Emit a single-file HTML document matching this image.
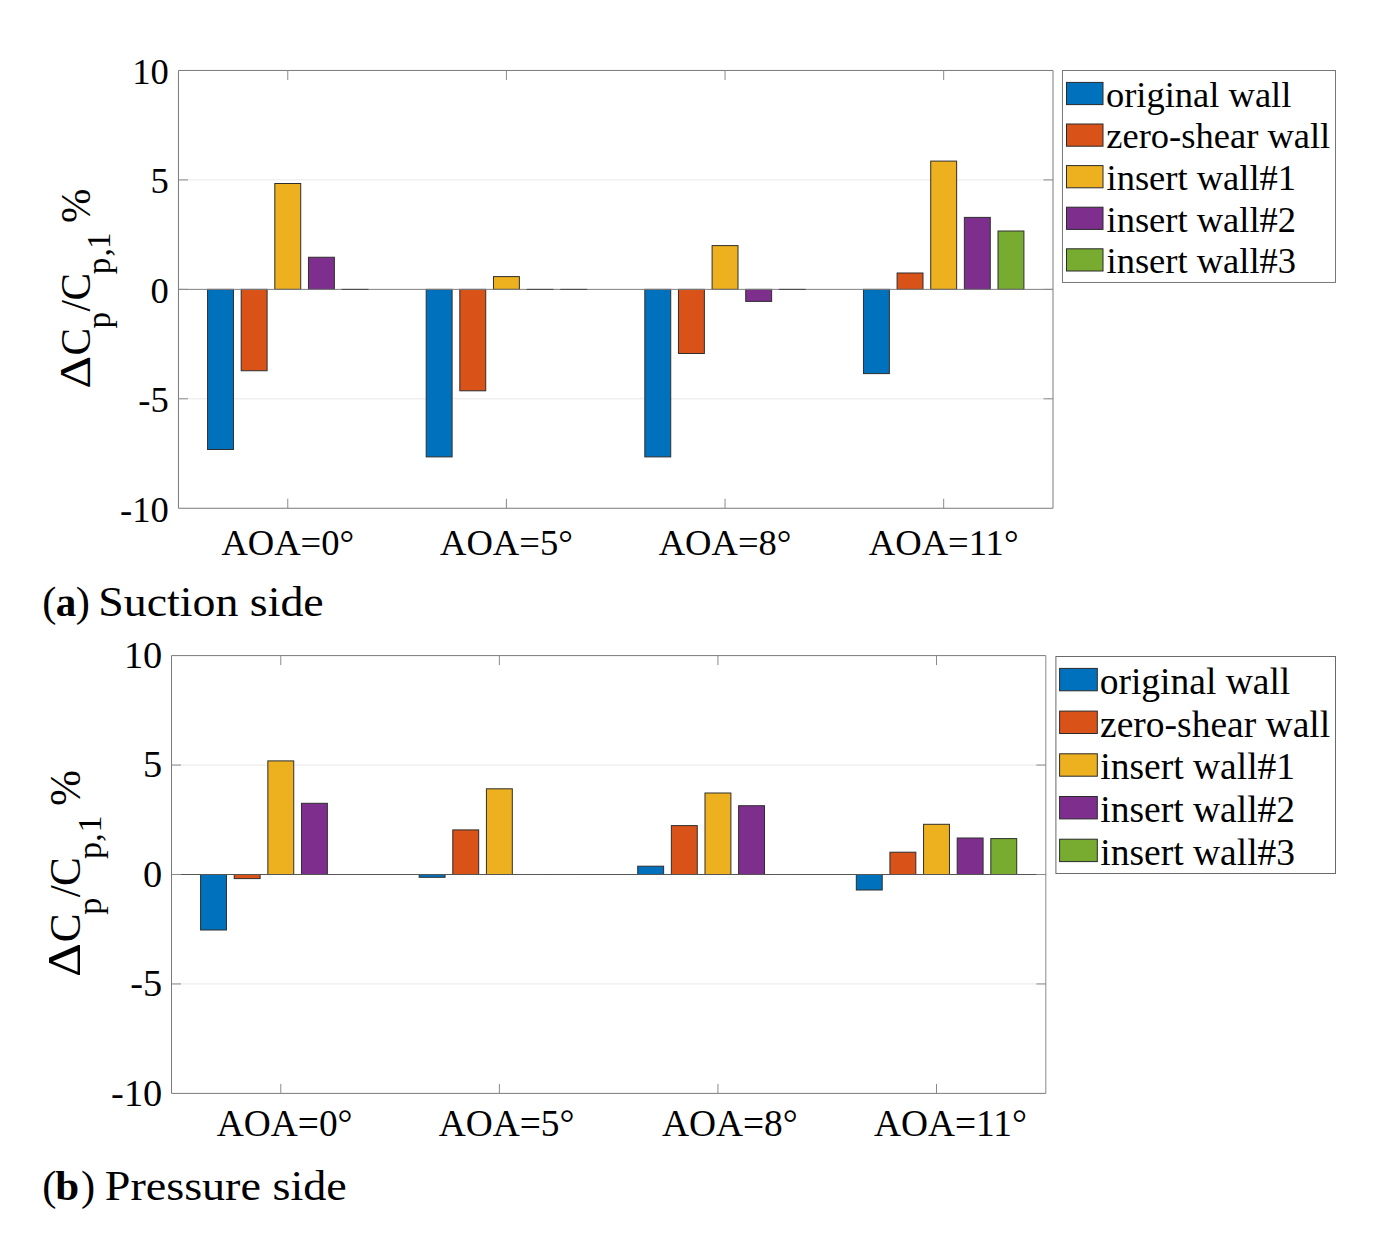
<!DOCTYPE html>
<html><head><meta charset="utf-8"><style>
html,body{margin:0;padding:0;background:#fff;}
svg{display:block;}
text{font-family:"Liberation Serif",serif;fill:#000;}
</style></head><body>
<svg width="1386" height="1238" viewBox="0 0 1386 1238">
<rect width="1386" height="1238" fill="#fff"/>
<line x1="178.46" x2="1053" y1="179.91" y2="179.91" stroke="#e8e8e8" stroke-width="1"/>
<line x1="178.46" x2="1053" y1="398.8" y2="398.8" stroke="#e8e8e8" stroke-width="1"/>
<rect x="207.55" y="289.36" width="25.91" height="160.14" fill="#0072BD" stroke="#2e2e2e" stroke-width="1"/>
<rect x="241.19" y="289.36" width="25.91" height="81.39" fill="#D95319" stroke="#2e2e2e" stroke-width="1"/>
<rect x="274.82" y="183.5" width="25.91" height="105.86" fill="#EDB120" stroke="#2e2e2e" stroke-width="1"/>
<rect x="308.46" y="257.25" width="25.91" height="32.11" fill="#7E2F8E" stroke="#2e2e2e" stroke-width="1"/>
<rect x="426.19" y="289.36" width="25.91" height="167.54" fill="#0072BD" stroke="#2e2e2e" stroke-width="1"/>
<rect x="459.82" y="289.36" width="25.91" height="101.44" fill="#D95319" stroke="#2e2e2e" stroke-width="1"/>
<rect x="493.46" y="276.6" width="25.91" height="12.75" fill="#EDB120" stroke="#2e2e2e" stroke-width="1"/>
<rect x="644.82" y="289.36" width="25.91" height="167.54" fill="#0072BD" stroke="#2e2e2e" stroke-width="1"/>
<rect x="678.46" y="289.36" width="25.91" height="64.14" fill="#D95319" stroke="#2e2e2e" stroke-width="1"/>
<rect x="712.09" y="245.6" width="25.91" height="43.76" fill="#EDB120" stroke="#2e2e2e" stroke-width="1"/>
<rect x="745.73" y="289.36" width="25.91" height="12.04" fill="#7E2F8E" stroke="#2e2e2e" stroke-width="1"/>
<rect x="863.46" y="289.36" width="25.91" height="84.25" fill="#0072BD" stroke="#2e2e2e" stroke-width="1"/>
<rect x="897.09" y="273" width="25.91" height="16.36" fill="#D95319" stroke="#2e2e2e" stroke-width="1"/>
<rect x="930.73" y="161.1" width="25.91" height="128.26" fill="#EDB120" stroke="#2e2e2e" stroke-width="1"/>
<rect x="964.36" y="217.4" width="25.91" height="71.96" fill="#7E2F8E" stroke="#2e2e2e" stroke-width="1"/>
<rect x="998" y="231" width="25.91" height="58.36" fill="#77AC30" stroke="#2e2e2e" stroke-width="1"/>
<line x1="178.46" x2="1053" y1="289.36" y2="289.36" stroke="#808080" stroke-width="1"/>
<line x1="341.6" x2="368.5" y1="289.36" y2="289.36" stroke="#444" stroke-width="1"/>
<line x1="526.59" x2="553.5" y1="289.36" y2="289.36" stroke="#444" stroke-width="1"/>
<line x1="560.23" x2="587.14" y1="289.36" y2="289.36" stroke="#444" stroke-width="1"/>
<line x1="778.87" x2="805.77" y1="289.36" y2="289.36" stroke="#444" stroke-width="1"/>
<line x1="178.46" x2="1053" y1="70.46" y2="70.46" stroke="#7a7a7a" stroke-width="1"/>
<line x1="178.46" x2="1053" y1="508.25" y2="508.25" stroke="#7a7a7a" stroke-width="1"/>
<line x1="178.46" x2="178.46" y1="70.46" y2="508.25" stroke="#7a7a7a" stroke-width="1"/>
<line x1="1053" x2="1053" y1="70.46" y2="508.25" stroke="#7a7a7a" stroke-width="1"/>
<line x1="178.46" x2="187.96" y1="179.91" y2="179.91" stroke="#8a8a8a" stroke-width="1"/>
<line x1="1043.5" x2="1053" y1="179.91" y2="179.91" stroke="#8a8a8a" stroke-width="1"/>
<line x1="178.46" x2="187.96" y1="289.36" y2="289.36" stroke="#8a8a8a" stroke-width="1"/>
<line x1="1043.5" x2="1053" y1="289.36" y2="289.36" stroke="#8a8a8a" stroke-width="1"/>
<line x1="178.46" x2="187.96" y1="398.8" y2="398.8" stroke="#8a8a8a" stroke-width="1"/>
<line x1="1043.5" x2="1053" y1="398.8" y2="398.8" stroke="#8a8a8a" stroke-width="1"/>
<line x1="287.78" x2="287.78" y1="70.46" y2="79.96" stroke="#8a8a8a" stroke-width="1"/>
<line x1="287.78" x2="287.78" y1="498.75" y2="508.25" stroke="#8a8a8a" stroke-width="1"/>
<line x1="506.41" x2="506.41" y1="70.46" y2="79.96" stroke="#8a8a8a" stroke-width="1"/>
<line x1="506.41" x2="506.41" y1="498.75" y2="508.25" stroke="#8a8a8a" stroke-width="1"/>
<line x1="725.05" x2="725.05" y1="70.46" y2="79.96" stroke="#8a8a8a" stroke-width="1"/>
<line x1="725.05" x2="725.05" y1="498.75" y2="508.25" stroke="#8a8a8a" stroke-width="1"/>
<line x1="943.68" x2="943.68" y1="70.46" y2="79.96" stroke="#8a8a8a" stroke-width="1"/>
<line x1="943.68" x2="943.68" y1="498.75" y2="508.25" stroke="#8a8a8a" stroke-width="1"/>
<text x="168.8" y="83.86" font-size="36.6" text-anchor="end">10</text>
<text x="168.8" y="193.31" font-size="36.6" text-anchor="end">5</text>
<text x="168.8" y="302.75" font-size="36.6" text-anchor="end">0</text>
<text x="168.8" y="412.2" font-size="36.6" text-anchor="end">-5</text>
<text x="168.8" y="521.65" font-size="36.6" text-anchor="end">-10</text>
<text x="287.78" y="554.8" font-size="36.6" text-anchor="middle">AOA=0°</text>
<text x="506.41" y="554.8" font-size="36.6" text-anchor="middle">AOA=5°</text>
<text x="725.05" y="554.8" font-size="36.6" text-anchor="middle">AOA=8°</text>
<text x="943.68" y="554.8" font-size="36.6" text-anchor="middle">AOA=11°</text>
<rect x="1062.46" y="70.5" width="273.04" height="211.96" fill="#fff" stroke="#777" stroke-width="1"/>
<rect x="1066.5" y="82.4" width="36.5" height="22.2" fill="#0072BD" stroke="#2a2a2a" stroke-width="1"/>
<text x="1105.91" y="106.7" font-size="36.5">original wall</text>
<rect x="1066.5" y="124" width="36.5" height="22.2" fill="#D95319" stroke="#2a2a2a" stroke-width="1"/>
<text x="1106.32" y="148.3" font-size="36.5">zero-shear wall</text>
<rect x="1066.5" y="165.6" width="36.5" height="22.2" fill="#EDB120" stroke="#2a2a2a" stroke-width="1"/>
<text x="1106.53" y="189.9" font-size="36.5">insert wall#1</text>
<rect x="1066.5" y="207.2" width="36.5" height="22.2" fill="#7E2F8E" stroke="#2a2a2a" stroke-width="1"/>
<text x="1106.53" y="231.5" font-size="36.5">insert wall#2</text>
<rect x="1066.5" y="248.8" width="36.5" height="22.2" fill="#77AC30" stroke="#2a2a2a" stroke-width="1"/>
<text x="1106.53" y="273.1" font-size="36.5">insert wall#3</text>
<g transform="translate(89.6,386.7) rotate(-90)">
<text transform="translate(0,0) scale(1.1656,1)" x="-1.68" y="0" font-size="44">Δ</text>
<text x="31.31" y="0" font-size="41.3">C</text>
<text x="58.17" y="20.8" font-size="33.2">p</text>
<text x="75.2" y="0" font-size="41.3">/</text>
<text x="86.21" y="0" font-size="41.3">C</text>
<text x="112.57" y="20.8" font-size="33.2">p</text>
<text x="130.24" y="20.8" font-size="33.2">,</text>
<text x="137.78" y="20.8" font-size="33.2">1</text>
<text x="163.59" y="0" font-size="41.3">%</text>
</g>
<text x="42.13" y="615.5" font-size="42.5">(</text>
<text x="55.68" y="615.5" font-size="41" font-weight="bold">a</text>
<text x="75.83" y="615.5" font-size="42.5">)</text>
<text x="98.33" y="615.5" font-size="43" textLength="225.36" lengthAdjust="spacingAndGlyphs">Suction side</text>
<line x1="171.5" x2="1045.8" y1="765.05" y2="765.05" stroke="#e8e8e8" stroke-width="1"/>
<line x1="171.5" x2="1045.8" y1="983.95" y2="983.95" stroke="#e8e8e8" stroke-width="1"/>
<rect x="200.58" y="874.5" width="25.9" height="55.5" fill="#0072BD" stroke="#2e2e2e" stroke-width="1"/>
<rect x="234.21" y="874.5" width="25.9" height="4.1" fill="#D95319" stroke="#2e2e2e" stroke-width="1"/>
<rect x="267.84" y="760.9" width="25.9" height="113.6" fill="#EDB120" stroke="#2e2e2e" stroke-width="1"/>
<rect x="301.46" y="803.3" width="25.9" height="71.2" fill="#7E2F8E" stroke="#2e2e2e" stroke-width="1"/>
<rect x="419.16" y="874.5" width="25.9" height="2.8" fill="#0072BD" stroke="#2e2e2e" stroke-width="1"/>
<rect x="452.78" y="829.9" width="25.9" height="44.6" fill="#D95319" stroke="#2e2e2e" stroke-width="1"/>
<rect x="486.41" y="788.8" width="25.9" height="85.7" fill="#EDB120" stroke="#2e2e2e" stroke-width="1"/>
<rect x="637.73" y="866.2" width="25.9" height="8.3" fill="#0072BD" stroke="#2e2e2e" stroke-width="1"/>
<rect x="671.36" y="825.6" width="25.9" height="48.9" fill="#D95319" stroke="#2e2e2e" stroke-width="1"/>
<rect x="704.99" y="793" width="25.9" height="81.5" fill="#EDB120" stroke="#2e2e2e" stroke-width="1"/>
<rect x="738.61" y="805.7" width="25.9" height="68.8" fill="#7E2F8E" stroke="#2e2e2e" stroke-width="1"/>
<rect x="856.31" y="874.5" width="25.9" height="15.5" fill="#0072BD" stroke="#2e2e2e" stroke-width="1"/>
<rect x="889.93" y="852.2" width="25.9" height="22.3" fill="#D95319" stroke="#2e2e2e" stroke-width="1"/>
<rect x="923.56" y="824.3" width="25.9" height="50.2" fill="#EDB120" stroke="#2e2e2e" stroke-width="1"/>
<rect x="957.19" y="838" width="25.9" height="36.5" fill="#7E2F8E" stroke="#2e2e2e" stroke-width="1"/>
<rect x="990.82" y="838.6" width="25.9" height="35.9" fill="#77AC30" stroke="#2e2e2e" stroke-width="1"/>
<line x1="171.5" x2="1045.8" y1="874.5" y2="874.5" stroke="#555" stroke-width="1"/>
<line x1="334.59" x2="361.49" y1="874.5" y2="874.5" stroke="#5a5a5a" stroke-width="1"/>
<line x1="519.54" x2="546.44" y1="874.5" y2="874.5" stroke="#5a5a5a" stroke-width="1"/>
<line x1="553.17" x2="580.07" y1="874.5" y2="874.5" stroke="#5a5a5a" stroke-width="1"/>
<line x1="771.74" x2="798.64" y1="874.5" y2="874.5" stroke="#5a5a5a" stroke-width="1"/>
<line x1="171.5" x2="1045.8" y1="655.6" y2="655.6" stroke="#7a7a7a" stroke-width="1"/>
<line x1="171.5" x2="1045.8" y1="1093.4" y2="1093.4" stroke="#7a7a7a" stroke-width="1"/>
<line x1="171.5" x2="171.5" y1="655.6" y2="1093.4" stroke="#7a7a7a" stroke-width="1"/>
<line x1="1045.8" x2="1045.8" y1="655.6" y2="1093.4" stroke="#8a8a8a" stroke-width="1"/>
<line x1="171.5" x2="181" y1="765.05" y2="765.05" stroke="#8a8a8a" stroke-width="1"/>
<line x1="1036.3" x2="1045.8" y1="765.05" y2="765.05" stroke="#8a8a8a" stroke-width="1"/>
<line x1="171.5" x2="181" y1="874.5" y2="874.5" stroke="#8a8a8a" stroke-width="1"/>
<line x1="1036.3" x2="1045.8" y1="874.5" y2="874.5" stroke="#8a8a8a" stroke-width="1"/>
<line x1="171.5" x2="181" y1="983.95" y2="983.95" stroke="#8a8a8a" stroke-width="1"/>
<line x1="1036.3" x2="1045.8" y1="983.95" y2="983.95" stroke="#8a8a8a" stroke-width="1"/>
<line x1="280.79" x2="280.79" y1="655.6" y2="665.1" stroke="#8a8a8a" stroke-width="1"/>
<line x1="280.79" x2="280.79" y1="1083.9" y2="1093.4" stroke="#8a8a8a" stroke-width="1"/>
<line x1="499.36" x2="499.36" y1="655.6" y2="665.1" stroke="#8a8a8a" stroke-width="1"/>
<line x1="499.36" x2="499.36" y1="1083.9" y2="1093.4" stroke="#8a8a8a" stroke-width="1"/>
<line x1="717.94" x2="717.94" y1="655.6" y2="665.1" stroke="#8a8a8a" stroke-width="1"/>
<line x1="717.94" x2="717.94" y1="1083.9" y2="1093.4" stroke="#8a8a8a" stroke-width="1"/>
<line x1="936.51" x2="936.51" y1="655.6" y2="665.1" stroke="#8a8a8a" stroke-width="1"/>
<line x1="936.51" x2="936.51" y1="1083.9" y2="1093.4" stroke="#8a8a8a" stroke-width="1"/>
<text x="162.3" y="667.8" font-size="38.4" text-anchor="end">10</text>
<text x="162.3" y="777.25" font-size="38.4" text-anchor="end">5</text>
<text x="162.3" y="886.7" font-size="38.4" text-anchor="end">0</text>
<text x="162.3" y="996.15" font-size="38.4" text-anchor="end">-5</text>
<text x="162.3" y="1105.6" font-size="38.4" text-anchor="end">-10</text>
<text x="284.7" y="1136.1" font-size="37.4" text-anchor="middle">AOA=0°</text>
<text x="506.6" y="1136.1" font-size="37.4" text-anchor="middle">AOA=5°</text>
<text x="729.9" y="1136.1" font-size="37.4" text-anchor="middle">AOA=8°</text>
<text x="950.5" y="1136.1" font-size="37.4" text-anchor="middle">AOA=11°</text>
<rect x="1055.9" y="656.5" width="279.6" height="217" fill="#fff" stroke="#6a6a6a" stroke-width="1"/>
<rect x="1059.6" y="668.4" width="37.7" height="22.4" fill="#0072BD" stroke="#2a2a2a" stroke-width="1"/>
<text x="1099.67" y="693.9" font-size="37.5">original wall</text>
<rect x="1059.6" y="711.1" width="37.7" height="22.4" fill="#D95319" stroke="#2a2a2a" stroke-width="1"/>
<text x="1100.09" y="736.6" font-size="37.5">zero-shear wall</text>
<rect x="1059.6" y="753.8" width="37.7" height="22.4" fill="#EDB120" stroke="#2a2a2a" stroke-width="1"/>
<text x="1100.31" y="779.3" font-size="37.5">insert wall#1</text>
<rect x="1059.6" y="796.5" width="37.7" height="22.4" fill="#7E2F8E" stroke="#2a2a2a" stroke-width="1"/>
<text x="1100.31" y="822" font-size="37.5">insert wall#2</text>
<rect x="1059.6" y="839.2" width="37.7" height="22.4" fill="#77AC30" stroke="#2a2a2a" stroke-width="1"/>
<text x="1100.31" y="864.7" font-size="37.5">insert wall#3</text>
<g transform="translate(79.9,974.9) rotate(-90)">
<text transform="translate(0,0) scale(1.1621,1)" x="-1.73" y="0" font-size="45.5">Δ</text>
<text x="32.62" y="0" font-size="43.3">C</text>
<text x="60.05" y="21" font-size="34">p</text>
<text x="77.6" y="0" font-size="43.3">/</text>
<text x="88.92" y="0" font-size="43.3">C</text>
<text x="115.95" y="21" font-size="34">p</text>
<text x="133.11" y="21" font-size="34">,</text>
<text x="142.51" y="21" font-size="34">1</text>
<text x="168.82" y="0" font-size="43.3">%</text>
</g>
<text x="42.13" y="1200" font-size="42.5">(</text>
<text x="55.35" y="1200" font-size="43" font-weight="bold">b</text>
<text x="80.93" y="1200" font-size="42.5">)</text>
<text x="104.77" y="1200" font-size="43" textLength="241.93" lengthAdjust="spacingAndGlyphs">Pressure side</text>
</svg>
</body></html>
